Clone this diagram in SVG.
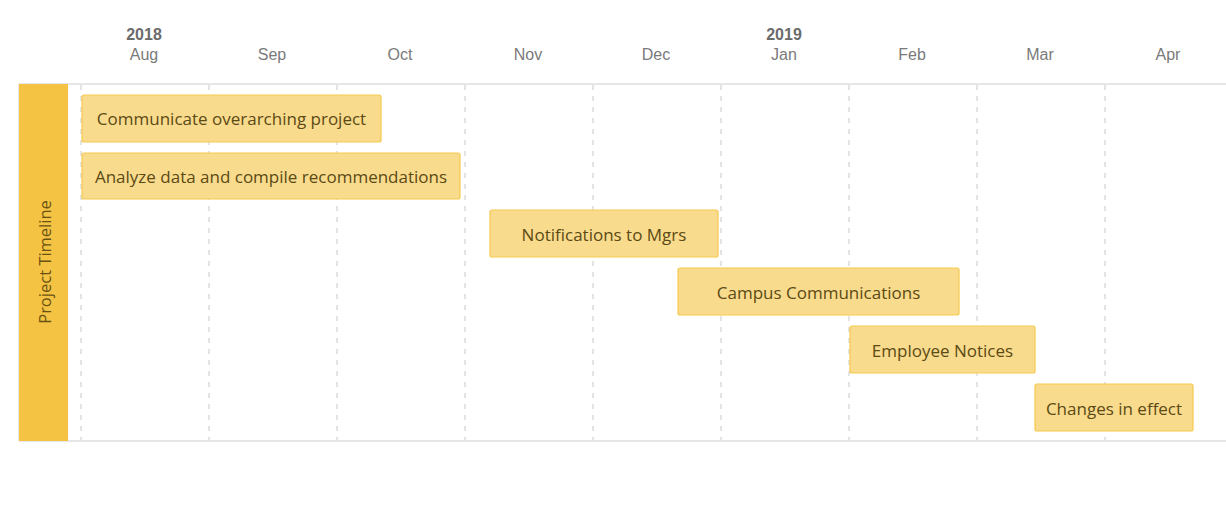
<svg xmlns="http://www.w3.org/2000/svg" width="1226" height="516" viewBox="0 0 1226 516">
  <style>
    .year { font-family: "Liberation Sans", Arial, sans-serif; font-size: 16px; font-weight: bold; fill: #6b6b6b; text-anchor: middle; }
    .month { font-family: "Liberation Sans", Arial, sans-serif; font-size: 16px; fill: #7a7a7a; text-anchor: middle; }
    .grid { stroke: #dcdcdc; stroke-width: 1.5; stroke-dasharray: 5 6; }
    .frame { stroke: #dedede; stroke-width: 1.5; fill: none; }
    .bar rect { fill: #f9db8d; stroke: #f5c94e; stroke-width: 1.2; }
    .bar text { font-family: "Open Sans", "Noto Sans", sans-serif; font-size: 17px; fill: #5b4a14; text-anchor: middle; dominant-baseline: central; }
    .lane { font-family: "Open Sans", "Noto Sans", sans-serif; font-size: 16.5px; fill: #6a5212; text-anchor: middle; dominant-baseline: central; }
  </style>

  <rect width="1226" height="516" fill="#ffffff"/>

  <!-- time scale -->
  <g id="scale">
    <text class="year" x="144" y="40">2018</text>
    <text class="year" x="784" y="40">2019</text>
    <text class="month" x="144" y="60">Aug</text>
    <text class="month" x="272" y="60">Sep</text>
    <text class="month" x="400" y="60">Oct</text>
    <text class="month" x="528" y="60">Nov</text>
    <text class="month" x="656" y="60">Dec</text>
    <text class="month" x="784" y="60">Jan</text>
    <text class="month" x="912" y="60">Feb</text>
    <text class="month" x="1040" y="60">Mar</text>
    <text class="month" x="1168" y="60">Apr</text>
  </g>

  <!-- month grid -->
  <g id="grid">
    <line class="grid" x1="81" y1="85" x2="81" y2="440"/>
    <line class="grid" x1="209" y1="85" x2="209" y2="440"/>
    <line class="grid" x1="337" y1="85" x2="337" y2="440"/>
    <line class="grid" x1="465" y1="85" x2="465" y2="440"/>
    <line class="grid" x1="593" y1="85" x2="593" y2="440"/>
    <line class="grid" x1="721" y1="85" x2="721" y2="440"/>
    <line class="grid" x1="849" y1="85" x2="849" y2="440"/>
    <line class="grid" x1="977" y1="85" x2="977" y2="440"/>
    <line class="grid" x1="1105" y1="85" x2="1105" y2="440"/>
  </g>

  <!-- lane frame -->
  <g id="frame">
    <line class="frame" x1="19" y1="84" x2="1226" y2="84"/>
    <line class="frame" x1="19" y1="441" x2="1226" y2="441"/>
    <line class="frame" x1="19" y1="84" x2="19" y2="441"/>
  </g>

  <!-- lane header -->
  <g id="lane">
    <rect x="19" y="84" width="49" height="357" fill="#f4c343"/>
    <text class="lane" transform="translate(44 262) rotate(-90)">Project Timeline</text>
  </g>

  <!-- tasks -->
  <g id="task1" class="bar">
    <rect x="82" y="95" width="299" height="47" rx="2"/>
    <text x="231.5" y="118.5">Communicate overarching project</text>
  </g>
  <g id="task2" class="bar">
    <rect x="82" y="153" width="378" height="46" rx="2"/>
    <text x="271" y="176">Analyze data and compile recommendations</text>
  </g>
  <g id="task3" class="bar">
    <rect x="490" y="210" width="228" height="47" rx="2"/>
    <text x="604" y="234">Notifications to Mgrs</text>
  </g>
  <g id="task4" class="bar">
    <rect x="678" y="268" width="281" height="47" rx="2"/>
    <text x="818.5" y="292">Campus Communications</text>
  </g>
  <g id="task5" class="bar">
    <rect x="850" y="326" width="185" height="47" rx="2"/>
    <text x="942.5" y="350">Employee Notices</text>
  </g>
  <g id="task6" class="bar">
    <rect x="1035" y="384" width="158" height="47" rx="2"/>
    <text x="1114" y="408">Changes in effect</text>
  </g>
</svg>
